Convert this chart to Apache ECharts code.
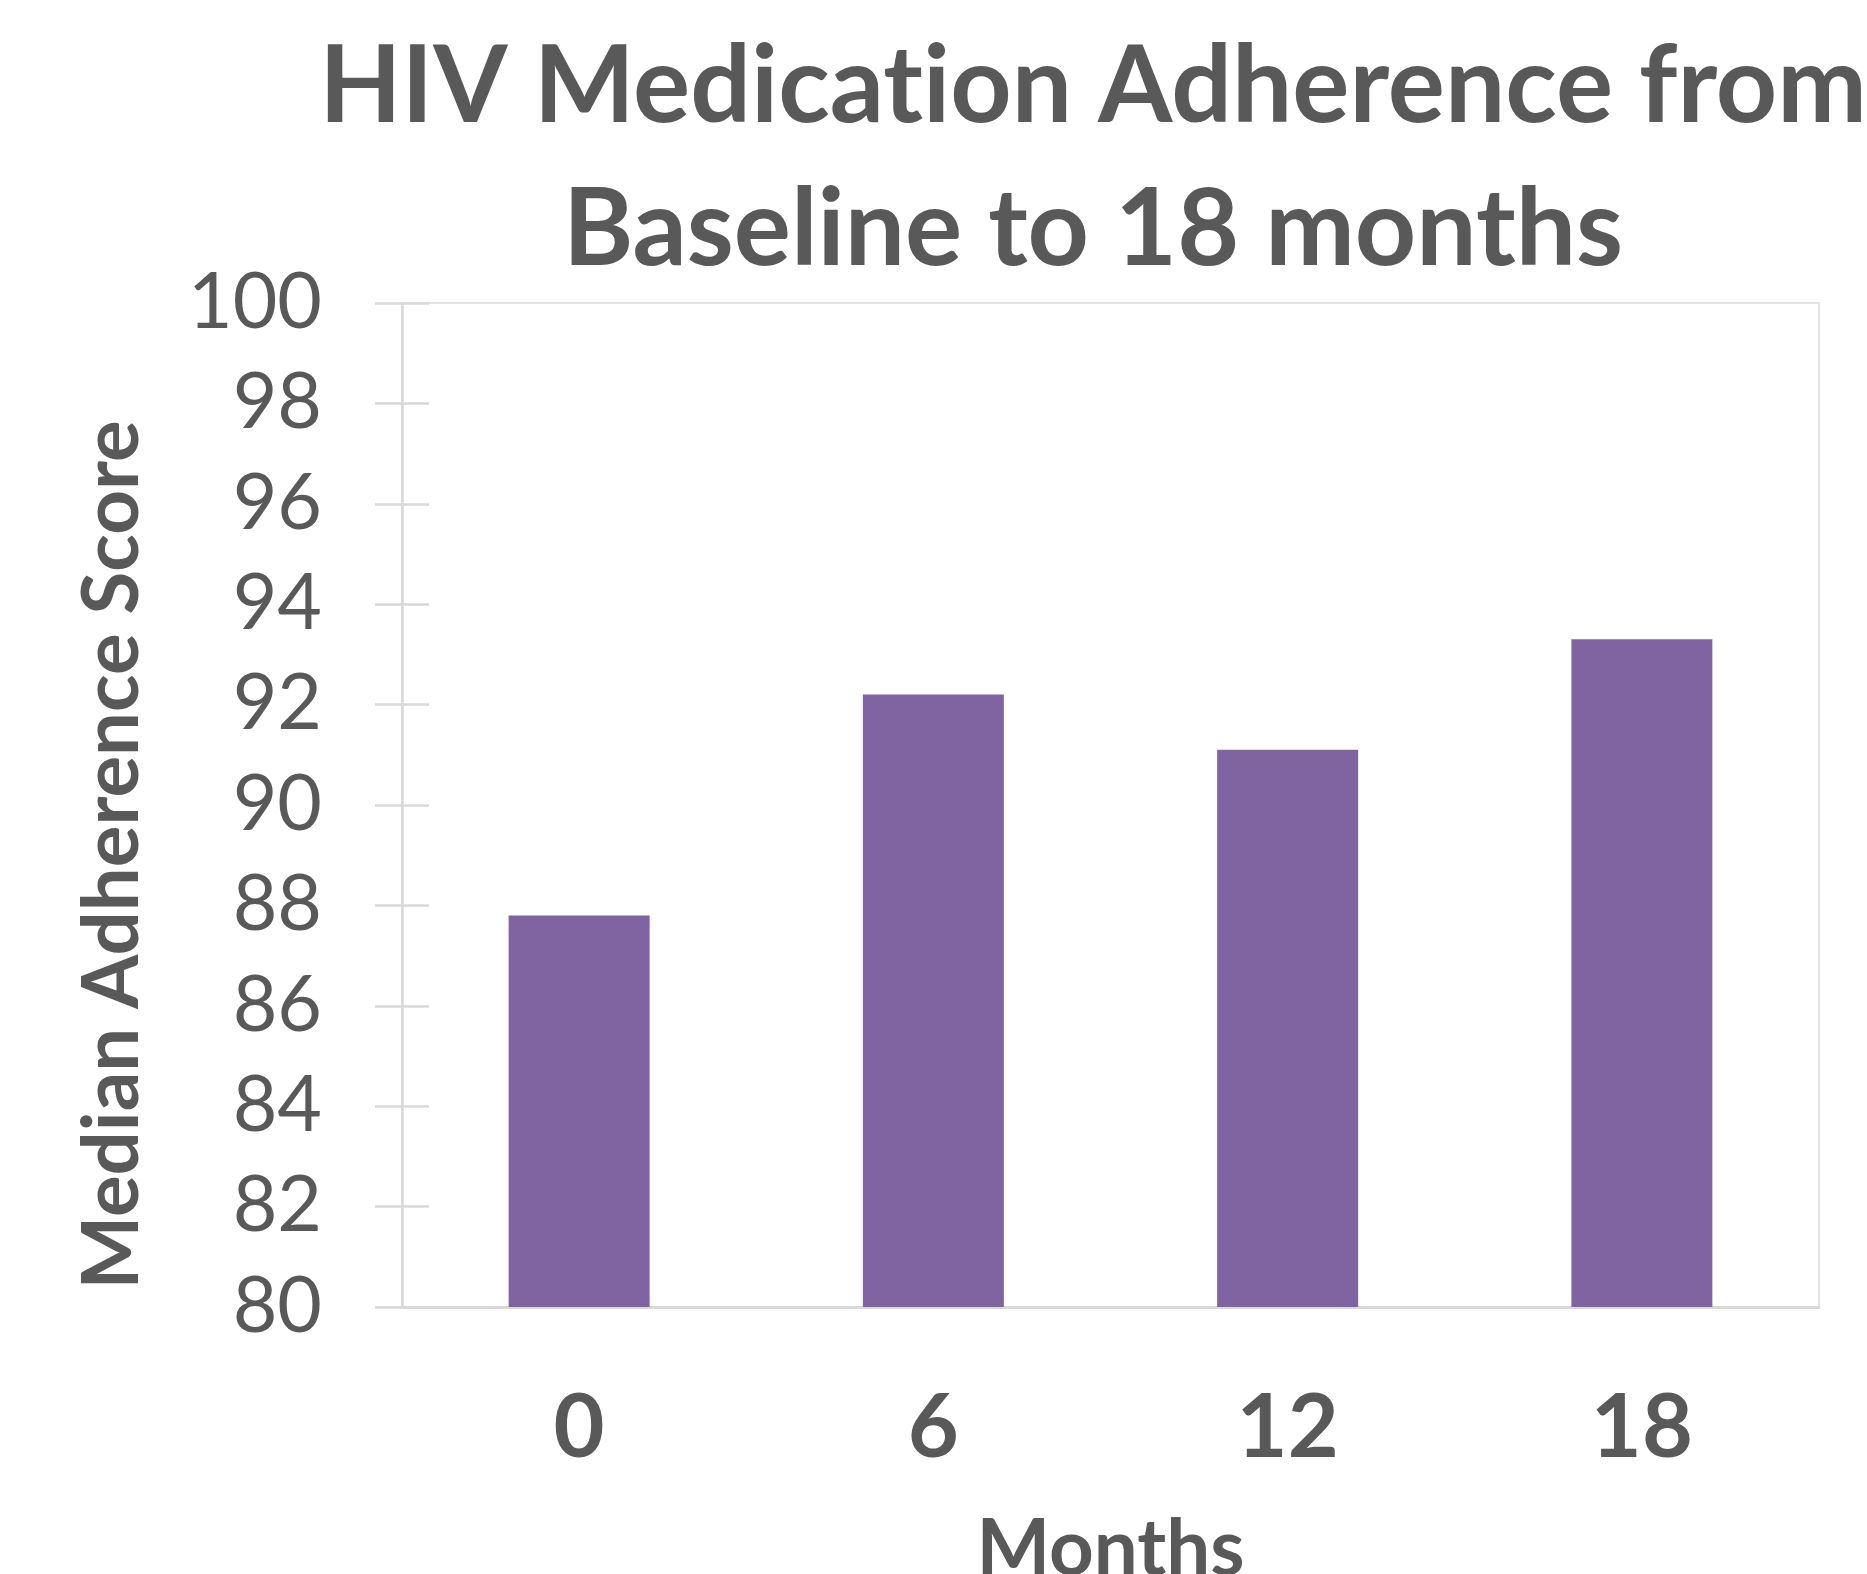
<!DOCTYPE html>
<html>
<head>
<meta charset="utf-8">
<script src="https://cdn.jsdelivr.net/npm/echarts@6/dist/echarts.min.js"></script>
<style>
html, body { margin: 0; padding: 0; background: #fff; }
#chart { width: 1867px; height: 1574px; }
</style>
</head>
<body>
<div id="chart"></div>
<script>
// 月份 / 中位依从性得分
var months = ['0', '6', '12', '18'];
var adherence = [87.8, 92.2, 91.1, 93.3];
var yMin = 80, yMax = 100, yStep = 2;

var textColor = '#595959';
var lineColor = '#d9d9d9';
var font = 'Lato';

var titleStyle = {
	fontFamily: font,
	fontWeight: 'bold',
	fontSize: 107,
	lineHeight: 143,
	color: textColor
};

var dom = document.getElementById('chart');
var myChart = echarts.init(dom);
var option = {
	backgroundColor: '#fff',
	animation: false,
	title: {
		// 在 t 和 i 之间拆开绘制, 避免 "ti" 连字
		text: '{p|HIV Medicat}{p|ion Adherence from}\n{p|Baseline to 18 months}',
		left: 1093,
		top: 16,
		padding: 0,
		textAlign: 'center',
		textStyle: {
			fontFamily: font,
			fontWeight: 'bold',
			fontSize: 107,
			lineHeight: 143,
			color: textColor,
			rich: { p: titleStyle }
		}
	},
	grid: {
		left: 402,
		right: 48,
		top: 303,
		bottom: 267,
		outerBoundsMode: 'none',
		show: true,
		borderColor: '#e3e3e3',
		borderWidth: 2
	},
	xAxis: {
		type: 'category',
		data: months,
		name: 'Months',
		nameLocation: 'middle',
		nameGap: 204,
		nameTextStyle: {
			fontFamily: font,
			fontWeight: 'bold',
			fontSize: 78,
			color: textColor
		},
		axisLine: { lineStyle: { color: lineColor, width: 3 } },
		axisTick: { show: false },
		axisLabel: {
			margin: 78,
			fontFamily: font,
			fontWeight: 'bold',
			fontSize: 88,
			color: textColor
		}
	},
	yAxis: [
		{
			type: 'value',
			min: yMin,
			max: yMax,
			interval: yStep,
			name: 'Median Adherence Score',
			nameLocation: 'middle',
			nameGap: 250,
			nameTextStyle: {
				fontFamily: font,
				fontWeight: 'bold',
				fontSize: 78,
				color: textColor,
				padding: [0, 100, 0, 0]
			},
			axisLine: { show: true, lineStyle: { color: lineColor, width: 2.5 } },
			axisTick: { show: true, length: 27, lineStyle: { color: lineColor, width: 2.5 } },
			splitLine: { show: false },
			axisLabel: {
				margin: 80,
				fontFamily: font,
				fontSize: 77,
				color: textColor
			}
		},
		{
			// 内侧刻度线
			type: 'value',
			position: 'left',
			min: yMin,
			max: yMax,
			interval: yStep,
			axisLine: { show: false },
			axisTick: { show: true, inside: true, length: 27, lineStyle: { color: lineColor, width: 2.5 } },
			splitLine: { show: false },
			axisLabel: { show: false }
		}
	],
	series: [
		{
			name: 'Median Adherence Score',
			type: 'bar',
			data: adherence,
			barWidth: 141,
			itemStyle: { color: '#8064a2' }
		}
	]
};
if (option && typeof option === 'object') {
	myChart.setOption(option, true);
}
</script>
</body>
</html>
